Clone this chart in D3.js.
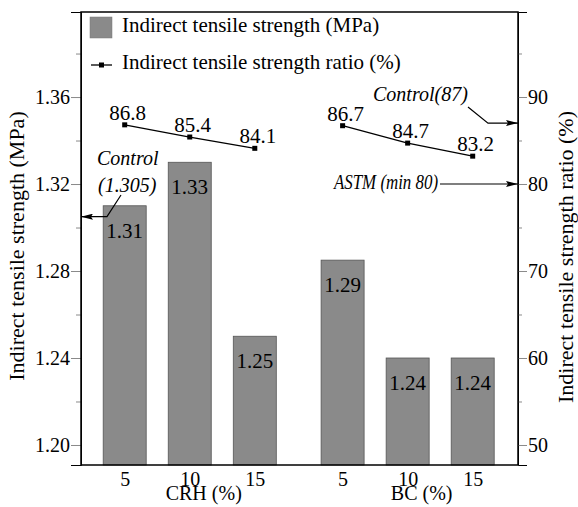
<!DOCTYPE html>
<html>
<head>
<meta charset="utf-8">
<script src="https://cdn.jsdelivr.net/npm/d3@7"></script>
<style>
  body { margin: 0; background: #fff; }
  svg, svg text { font-family: "Liberation Serif", "Tinos", "Times New Roman", "DejaVu Serif", serif !important; }
  .tick line { stroke: #8a8a8a; }
  .domain { stroke: #000; }
</style>
</head>
<body>
<svg></svg>
<script>
/* global d3:true */

// chart data
const groups = ['CRH (%)', 'BC (%)']
const doses = ['5', '10', '15', '5', '10', '15']
const groupOf = [0, 0, 0, 1, 1, 1]
const strength = [1.31, 1.33, 1.25, 1.285, 1.24, 1.24]
const strengthLabels = ['1.31', '1.33', '1.25', '1.29', '1.24', '1.24']
const ratio = [86.8, 85.4, 84.1, 86.7, 84.7, 83.2]
const ratioLabels = ['86.8', '85.4', '84.1', '86.7', '84.7', '83.2']
const leftTicks = [1.20, 1.24, 1.28, 1.32, 1.36]
const leftMinor = [1.22, 1.26, 1.30, 1.34, 1.38]
const rightTicks = [50, 60, 70, 80, 90]
const rightMinor = [55, 65, 75, 85, 95]
const controlStrength = 1.305
const controlRatio = 87
const astmMin = 80

const app = () => {
  const w = 578
  const h = 507
  const left = 81
  const right = 518
  const top = 12
  const bottom = 465

  const svg = d3.select('svg')
    .attr('width', w)
    .attr('height', h)

  // slot positions, with an extra gap between the two groups
  const slots = doses.map((d, i) => i + groupOf[i] * 0.35)

  const x = d3.scaleLinear()
    .domain([0, 5.35])
    .range([124.7, 472.7])
  const barW = 43

  const y = d3.scaleLinear()
    .domain([1.1908, 1.3991])
    .range([bottom, top])

  const yR = d3.scaleLinear()
    .domain([47.7, 99.77])
    .range([bottom, top])

  // arrow head
  svg.append('defs').append('marker')
    .attr('id', 'arrow')
    .attr('viewBox', '0 0 12 6')
    .attr('refX', 12)
    .attr('refY', 3)
    .attr('markerWidth', 12)
    .attr('markerHeight', 6)
    .attr('markerUnits', 'userSpaceOnUse')
    .attr('orient', 'auto')
    .append('path')
    .attr('d', 'M0,0 L12,3 L0,6 L2,3 z')
    .attr('fill', '#000')

  // bars
  svg.selectAll('.bar')
    .data(strength)
    .enter()
    .append('rect')
    .attr('class', 'bar')
    .attr('x', (d, i) => x(slots[i]) - barW / 2)
    .attr('y', (d) => y(d))
    .attr('width', barW)
    .attr('height', (d) => bottom - y(d))
    .attr('fill', '#8a8a8a')
    .attr('stroke', '#555')
    .attr('stroke-width', 0.8)

  svg.selectAll('.bar-label')
    .data(strength)
    .enter()
    .append('text')
    .attr('class', 'bar-label')
    .attr('x', (d, i) => x(slots[i]))
    .attr('y', (d) => y(d) + 32)
    .attr('text-anchor', 'middle')
    .attr('font-size', 21)
    .text((d, i) => strengthLabels[i])

  // ratio lines, one per group
  const line = d3.line()
    .x((d) => x(slots[d]))
    .y((d) => yR(ratio[d]))

  groups.forEach((g, gi) => {
    const idx = doses.map((d, i) => i).filter((i) => groupOf[i] === gi)
    svg.append('path')
      .attr('d', line(idx))
      .attr('fill', 'none')
      .attr('stroke', '#000')
      .attr('stroke-width', 1.3)
  })

  svg.selectAll('.marker')
    .data(ratio)
    .enter()
    .append('rect')
    .attr('class', 'marker')
    .attr('x', (d, i) => x(slots[i]) - 2.5)
    .attr('y', (d) => yR(d) - 2.5)
    .attr('width', 5)
    .attr('height', 5)
    .attr('fill', '#000')

  svg.selectAll('.ratio-label')
    .data(ratio)
    .enter()
    .append('text')
    .attr('class', 'ratio-label')
    .attr('x', (d, i) => x(slots[i]) + 3)
    .attr('y', (d) => yR(d) - 5)
    .attr('text-anchor', 'middle')
    .attr('font-size', 21)
    .text((d, i) => ratioLabels[i])

  // left axis
  const gLeft = svg.append('g')
    .attr('transform', `translate(${left}, 0)`)
    .call(d3.axisLeft(y).tickValues(leftTicks).tickSize(10).tickPadding(1)
      .tickFormat(d3.format('.2f')))
  gLeft.selectAll('text').attr('font-size', 20).attr('fill', '#000')
  svg.append('g')
    .attr('transform', `translate(${left}, 0)`)
    .call(d3.axisLeft(y).tickValues(leftMinor).tickSize(5).tickFormat(''))
    .select('.domain').remove()

  // right axis
  const gRight = svg.append('g')
    .attr('transform', `translate(${right}, 0)`)
    .call(d3.axisRight(yR).tickValues(rightTicks).tickSize(9).tickPadding(1))
  gRight.selectAll('text').attr('font-size', 20).attr('fill', '#000')
  svg.append('g')
    .attr('transform', `translate(${right}, 0)`)
    .call(d3.axisRight(yR).tickValues(rightMinor).tickSize(4).tickFormat(''))
    .select('.domain').remove()

  // bottom axis
  const gBottom = svg.append('g')
    .attr('transform', `translate(0, ${bottom})`)
    .call(d3.axisBottom(x).tickValues(slots).tickSize(0).tickPadding(7)
      .tickFormat((d, i) => doses[i]))
  gBottom.selectAll('text').attr('font-size', 20).attr('fill', '#000')
  gBottom.select('.domain').remove()

  // frame
  svg.append('rect')
    .attr('x', left)
    .attr('y', top)
    .attr('width', right - left)
    .attr('height', bottom - top)
    .attr('fill', 'none')
    .attr('stroke', '#000')
    .attr('stroke-width', 1.5)

  // group labels
  groups.forEach((g, gi) => {
    svg.append('text')
      .attr('x', x(slots[gi * 3 + 1]) + 14)
      .attr('y', 500)
      .attr('text-anchor', 'middle')
      .attr('font-size', 20)
      .text(g)
  })

  // axis titles
  svg.append('text')
    .attr('text-anchor', 'middle')
    .attr('transform', `translate(24, 246)rotate(-90)`)
    .attr('font-size', 22)
    .text('Indirect tensile strength (MPa)')

  svg.append('text')
    .attr('text-anchor', 'middle')
    .attr('transform', `translate(573, 257)rotate(-90)`)
    .attr('font-size', 22)
    .text('Indirect tensile strength ratio (%)')

  // legend
  svg.append('rect')
    .attr('x', 90)
    .attr('y', 17)
    .attr('width', 22)
    .attr('height', 21)
    .attr('fill', '#8a8a8a')
    .attr('stroke', '#777')
    .attr('stroke-width', 0.5)
  svg.append('text')
    .attr('x', 122)
    .attr('y', 32)
    .attr('font-size', 21)
    .text('Indirect tensile strength (MPa)')

  svg.append('line')
    .attr('x1', 91)
    .attr('x2', 112)
    .attr('y1', 65)
    .attr('y2', 65)
    .attr('stroke', '#000')
    .attr('stroke-width', 1.3)
  svg.append('rect')
    .attr('x', 99)
    .attr('y', 62.5)
    .attr('width', 5)
    .attr('height', 5)
  svg.append('text')
    .attr('x', 122)
    .attr('y', 69)
    .attr('font-size', 21)
    .text('Indirect tensile strength ratio (%)')

  // annotations
  const arrow = (pts) => svg.append('polyline')
    .attr('points', pts.map((p) => p.join(',')).join(' '))
    .attr('fill', 'none')
    .attr('stroke', '#000')
    .attr('stroke-width', 1.2)
    .attr('marker-end', 'url(#arrow)')

  svg.append('text')
    .attr('x', 97)
    .attr('y', 165)
    .attr('font-size', 20)
    .attr('font-style', 'italic')
    .text('Control')
  svg.append('text')
    .attr('x', 98)
    .attr('y', 192)
    .attr('font-size', 20)
    .attr('font-style', 'italic')
    .text(`(${controlStrength})`)
  arrow([[121, 195], [107, y(controlStrength)], [left, y(controlStrength)]])

  svg.append('text')
    .attr('x', 373)
    .attr('y', 101)
    .attr('font-size', 20)
    .attr('font-style', 'italic')
    .text(`Control(${controlRatio})`)
  arrow([[468, 107], [488, yR(controlRatio)], [right, yR(controlRatio)]])

  svg.append('text')
    .attr('x', 334)
    .attr('y', 189)
    .attr('font-size', 20)
    .attr('font-style', 'italic')
    .attr('textLength', 104)
    .attr('lengthAdjust', 'spacingAndGlyphs')
    .text(`ASTM (min ${astmMin})`)
  arrow([[440, yR(astmMin)], [right, yR(astmMin)]])
}

app()
</script>
</body>
</html>
